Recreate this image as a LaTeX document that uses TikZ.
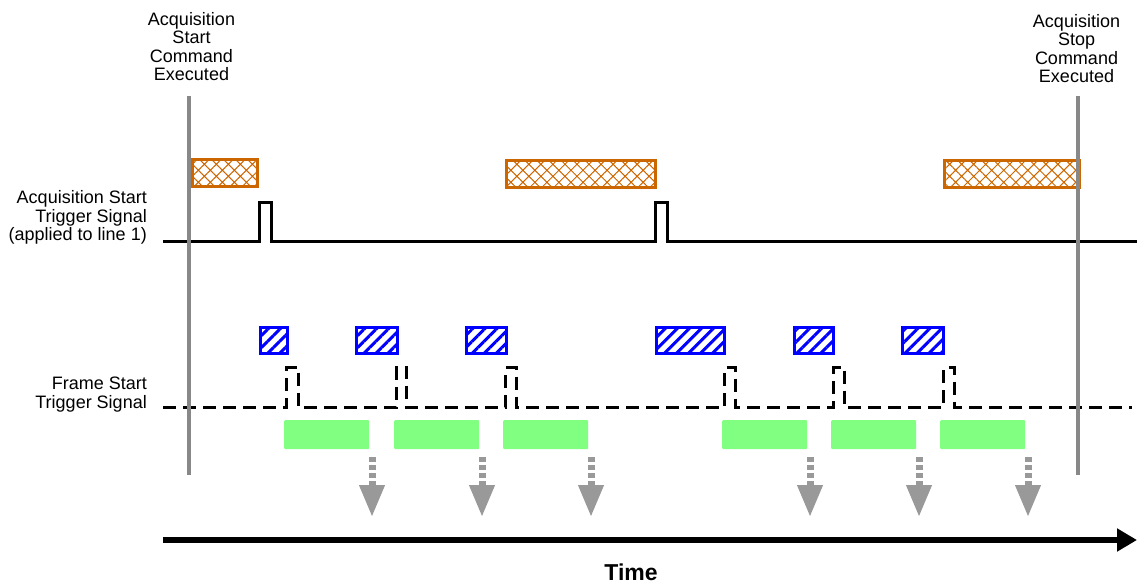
\documentclass[tikz,border=0pt]{standalone}
\usepackage{fontspec}
\setmainfont{Liberation Sans}
\usetikzlibrary{arrows.meta,patterns.meta}
\definecolor{rulegray}{HTML}{888888}
\definecolor{acqorange}{HTML}{CC6600}
\definecolor{frameblue}{HTML}{0000FF}
\definecolor{exgreen}{HTML}{80FF80}
\definecolor{arrgray}{HTML}{999999}
\begin{document}
\begin{tikzpicture}[x=1pt,y=-1pt,
  lbl/.style={font=\fontsize{18}{18.5}\selectfont, inner sep=0pt, align=center, anchor=base},
  sidelbl/.style={font=\fontsize{18}{18.5}\selectfont, inner sep=0pt, align=right, anchor=base east},
  obox/.style={draw=acqorange, line width=3pt, anchor=north west, inner sep=0pt,
    minimum height=26.5pt, pattern={Hatch[angle=45,distance=8.5pt,line width=1pt]}, pattern color=acqorange},
  fbox/.style={draw=frameblue, line width=3pt, anchor=north west, inner sep=0pt,
    minimum height=26pt, pattern={Lines[angle=45,distance=8.5pt,line width=3pt]}, pattern color=frameblue},
  gbox/.style={fill=exgreen, anchor=north west, inner sep=0pt, minimum width=85pt,
    minimum height=29pt, rounded corners=1pt},
  cmdline/.style={draw=rulegray, line width=4pt},
  sigline/.style={draw=black, line width=3pt},
  dsigline/.style={draw=black, line width=3pt, dash pattern=on 13pt off 7pt},
  readout/.style={draw=arrgray, line width=7pt, dash pattern=on 5pt off 3pt,
    -{Triangle[width=24pt,length=32pt]}},
  timeline/.style={draw=black, line width=6pt, -{Triangle[width=22pt,length=20pt]}}
]
\useasboundingbox (0,0) rectangle (1137,585);

% labels (base anchor = baseline of the last line)
\node[lbl] (startcmd) at (191.5,81) {Acquisition\\Start\\Command\\Executed};
\node[lbl] (stopcmd) at (1076.5,83) {Acquisition\\Stop\\Command\\Executed};
\node[sidelbl] (asig) at (147,241) {Acquisition Start\\Trigger Signal\\(applied to line 1)};
\node[sidelbl] (fsig) at (147,408) {Frame Start\\Trigger Signal};
\node[font=\fontsize{23}{24}\bfseries\selectfont, inner sep=0pt] (time) at (631,572) {Time};

% acquisition start trigger wait boxes
\node[obox, minimum width=65pt] (ab1) at (192,159.5) {};
\node[obox, minimum width=149pt] (ab2) at (504.5,159.5) {};
\node[obox, minimum width=135pt] (ab3) at (942.5,159.5) {};

% acquisition start trigger signal
\draw[sigline] (163,241.5) -- (259.5,241.5) -- (259.5,202.5) -- (271.5,202.5) -- (271.5,241.5)
  -- (655.5,241.5) -- (655.5,202.5) -- (667.5,202.5) -- (667.5,241.5) -- (1137,241.5);

% frame start trigger wait boxes
\node[fbox, minimum width=27pt] (fb1) at (258.5,325.5) {};
\node[fbox, minimum width=41pt] (fb2) at (354.5,325.5) {};
\node[fbox, minimum width=40pt] (fb3) at (464.5,325.5) {};
\node[fbox, minimum width=68pt] (fb4) at (654.5,325.5) {};
\node[fbox, minimum width=39pt] (fb5) at (792.5,325.5) {};
\node[fbox, minimum width=41pt] (fb6) at (900.5,325.5) {};

% frame start trigger signal
\draw[dsigline] (163,407)
  -- (286.5,407) -- (286.5,367.5) -- (298.5,367.5) -- (298.5,407)
  -- (396.5,407) -- (396.5,367.5) -- (406.5,367.5) -- (406.5,407)
  -- (505.5,407) -- (505.5,367.5) -- (516.5,367.5) -- (516.5,407)
  -- (724.5,407) -- (724.5,367.5) -- (735.5,367.5) -- (735.5,407)
  -- (833.5,407) -- (833.5,367.5) -- (844.5,367.5) -- (844.5,407)
  -- (943.5,407) -- (943.5,367.5) -- (954.5,367.5) -- (954.5,407)
  -- (1132,407);

% exposures
\node[gbox] (ex1) at (284,420) {};
\node[gbox] (ex2) at (394,420) {};
\node[gbox] (ex3) at (503,420) {};
\node[gbox] (ex4) at (722,420) {};
\node[gbox] (ex5) at (831,420) {};
\node[gbox] (ex6) at (940,420) {};

% readout arrows
\foreach \i/\xx in {1/372,2/482,3/591,4/810,5/919,6/1028}{
  \coordinate (rs\i) at (\xx,457);
  \coordinate (re\i) at (\xx,517);
  \draw[readout] (rs\i) -- (re\i);
}

% time axis
\coordinate (t0) at (163,540);
\coordinate (t1) at (1137,540);
\draw[timeline] (t0) -- (t1);

% command executed lines
\coordinate (sc0) at (189,96);
\coordinate (sc1) at (189,475);
\coordinate (pc0) at (1078,96);
\coordinate (pc1) at (1078,475);
\draw[cmdline] (sc0) -- (sc1);
\draw[cmdline] (pc0) -- (pc1);
\end{tikzpicture}
\end{document}
